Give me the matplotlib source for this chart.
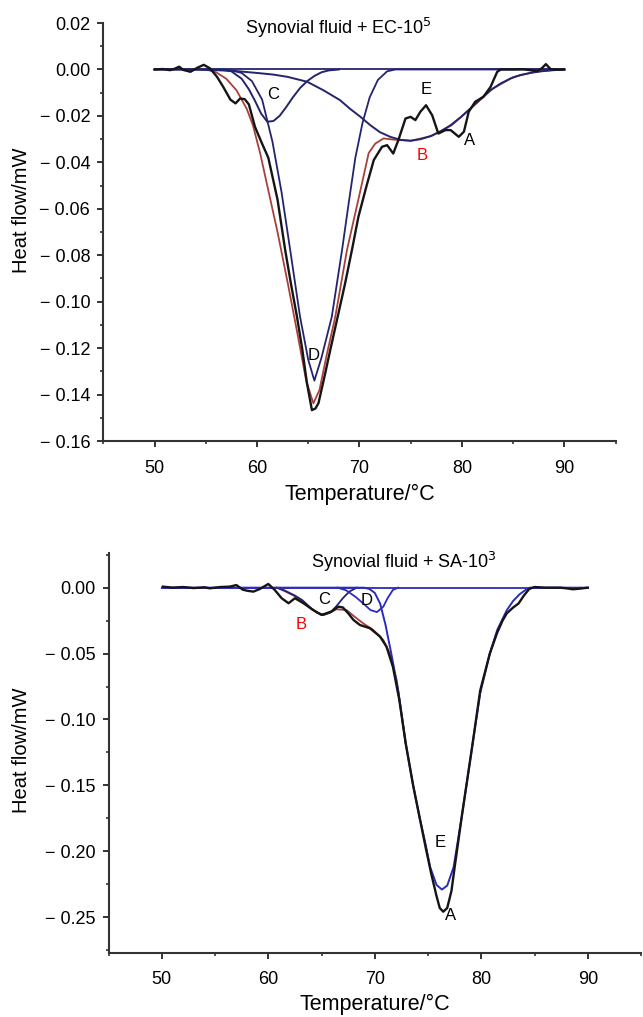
import matplotlib
matplotlib.use("Agg")
import matplotlib.pyplot as plt
from matplotlib.ticker import MultipleLocator, FuncFormatter

plt.rcParams['font.family'] = ['Liberation Sans', 'DejaVu Sans']

# ---------------- Top panel: Synovial fluid + EC-10^5 ----------------
top_exp_T = [50.0, 50.8, 51.5, 52.0, 52.4, 52.8, 53.5, 54.2, 54.8, 55.4, 56.1, 56.7, 57.4, 57.9,
             58.35, 58.8, 59.2, 59.8, 60.4, 61.1, 62.0, 62.75, 63.3, 63.9, 64.4, 64.87, 65.36,
             65.7, 66.0, 66.6, 67.15, 67.9, 68.6, 69.3, 69.9, 70.7, 71.4, 72.2, 72.7, 73.3, 73.8,
             74.5, 75.0, 75.46, 75.95, 76.5, 77.1, 77.7, 78.4, 78.9, 79.7, 80.2, 80.67, 81.3,
             82.1, 82.8, 83.45, 83.8, 85.0, 86.0, 87.35, 87.8, 88.2, 88.65, 89.3, 90.0]
top_exp = [0.0000, 0.0002, -0.0003, 0.0004, 0.0012, -0.0002, -0.0010, 0.0008, 0.0020, 0.0005,
           -0.0032, -0.0075, -0.0130, -0.0146, -0.0125, -0.0128, -0.0150, -0.0247, -0.0310,
           -0.0380, -0.0560, -0.0778, -0.0920, -0.1065, -0.1200, -0.1350, -0.1467, -0.1460,
           -0.1437, -0.1320, -0.1208, -0.1060, -0.0921, -0.0770, -0.0634, -0.0500, -0.0390,
           -0.0333, -0.0326, -0.0362, -0.0304, -0.0211, -0.0204, -0.0218, -0.0182, -0.0154,
           -0.0197, -0.0276, -0.0261, -0.0261, -0.0290, -0.0268, -0.0182, -0.0139, -0.0118,
           -0.0075, -0.0010, 0.0000, 0.0000, 0.0001, -0.0007, 0.0005, 0.0023, 0.0002, -0.0001,
           0.0000]

top_B_T = [55.0, 56.0, 57.0, 58.0, 59.0, 59.6, 60.3, 61.0, 62.0, 63.0, 64.0, 64.8, 65.5, 66.1,
           66.8, 67.64, 68.78, 70.25, 70.9, 71.55, 72.36, 73.3, 75.0, 77.0, 79.0, 81.0, 83.0,
           85.0, 87.0, 89.0, 90.0]
top_B = [0.0, -0.0012, -0.0040, -0.0090, -0.0170, -0.0240, -0.0360, -0.0500, -0.0700, -0.0920,
         -0.1150, -0.1340, -0.1438, -0.1380, -0.1230, -0.1065, -0.0778, -0.0490, -0.0360,
         -0.0319, -0.0297, -0.0302, -0.0307, -0.0287, -0.0240, -0.0163, -0.0083, -0.0033,
         -0.0011, -0.0002, 0.0]

top_D_T = [50.0, 56.5, 57.5, 58.5, 59.5, 60.5, 61.5, 62.4, 63.24, 64.2, 65.0, 65.6, 66.3, 67.3,
           68.3, 69.0, 69.6, 70.3, 71.0, 71.8, 72.7, 73.5, 90.0]
top_D = [0.0, 0.0, -0.0004, -0.0015, -0.0050, -0.0130, -0.0310, -0.0530, -0.0778, -0.1065,
         -0.1250, -0.1340, -0.1240, -0.1065, -0.0778, -0.0560, -0.0380, -0.0230, -0.0120,
         -0.0045, -0.0008, 0.0, 0.0]

top_C_T = [56.5, 57.5, 58.5, 59.2, 59.8, 60.4, 61.0, 61.6, 62.2, 62.8, 63.5, 64.2, 64.9, 65.6,
           66.3, 67.0, 68.0]
top_C = [0.0, -0.0008, -0.0040, -0.0085, -0.0135, -0.0190, -0.0225, -0.0222, -0.0200, -0.0165,
         -0.0120, -0.0080, -0.0050, -0.0028, -0.0012, -0.0004, 0.0]

top_A_T = [50.0, 54.0, 56.0, 58.0, 60.0, 61.6, 63.0, 64.9, 66.5, 68.1, 69.1, 70.1, 71.06, 72.0,
           73.0, 74.0, 75.0, 76.0, 76.95, 78.0, 78.9, 79.9, 80.85, 81.8, 82.8, 83.8, 84.75,
           85.7, 86.7, 87.7, 88.65, 90.0]
top_A = [0.0, -0.0001, -0.0003, -0.0007, -0.0015, -0.0022, -0.0032, -0.0053, -0.0090, -0.0132,
         -0.0170, -0.0204, -0.0240, -0.0270, -0.0290, -0.0303, -0.0307, -0.0300, -0.0287,
         -0.0265, -0.0240, -0.0205, -0.0167, -0.0127, -0.0089, -0.0060, -0.0039, -0.0024,
         -0.0015, -0.0008, -0.0004, 0.0]

top_labels = ["C", "D", "E", "A", "B"]
top_label_T = [61.6, 65.5, 76.5, 80.7, 76.1]
top_label_v = [-0.0106, -0.1230, -0.0085, -0.0307, -0.0370]
top_label_c = ["black", "black", "black", "black", "red"]
top_title = "Synovial fluid + EC-10$^{5}$"

# ---------------- Bottom panel: Synovial fluid + SA-10^3 ----------------
bot_exp_T = [50.1, 51.0, 52.0, 53.0, 54.0, 54.5, 55.5, 56.4, 57.0, 57.6, 58.0, 58.6, 59.2, 60.0,
             60.6, 61.25, 61.9, 62.5, 63.3, 64.2, 65.0, 65.95, 66.57, 67.0, 67.5, 68.0, 68.6,
             69.55, 70.5, 71.1, 71.7, 72.3, 72.9, 73.6, 74.2, 74.8, 75.3, 75.8, 76.1, 76.43,
             76.8, 77.2, 77.5, 78.16, 79.1, 79.9, 80.8, 81.5, 82.0, 82.4, 83.0, 83.5, 84.0,
             84.5, 85.0, 86.0, 87.4, 88.0, 88.6, 89.2, 90.0]
bot_exp = [0.0008, 0.0000, 0.0005, -0.0003, 0.0003, -0.0005, 0.0005, 0.0008, 0.0020, -0.0015,
           -0.0023, -0.0030, -0.0010, 0.0028, -0.0017, -0.0080, -0.0118, -0.0080, -0.0118,
           -0.0169, -0.0207, -0.0180, -0.0144, -0.0150, -0.0194, -0.0245, -0.0283, -0.0308,
           -0.0372, -0.0448, -0.0600, -0.0850, -0.1180, -0.1500, -0.1740, -0.1980, -0.2170,
           -0.2340, -0.2430, -0.2458, -0.2430, -0.2300, -0.2120, -0.1740, -0.1230, -0.0780,
           -0.0500, -0.0340, -0.0250, -0.0194, -0.0150, -0.0120, -0.0060, -0.0010, 0.0005,
           0.0000, 0.0000, -0.0005, -0.0012, -0.0008, 0.0000]

bot_E_T = [50.0, 69.0, 69.5, 70.0, 70.5, 71.0, 71.5, 72.2, 72.9, 73.6, 74.2, 74.8, 75.2, 75.8,
           76.3, 76.8, 77.4, 78.16, 79.1, 79.9, 80.8, 81.5, 82.4, 83.0, 83.6, 84.2, 84.6, 90.0]
bot_E = [0.0, 0.0, -0.0010, -0.0040, -0.0120, -0.0280, -0.0480, -0.0780, -0.1180, -0.1500,
         -0.1740, -0.1960, -0.2120, -0.2255, -0.2290, -0.2260, -0.2120, -0.1740, -0.1230,
         -0.0800, -0.0500, -0.0320, -0.0170, -0.0100, -0.0050, -0.0015, 0.0, 0.0]

bot_C_T = [60.8, 61.5, 62.5, 63.2, 64.0, 64.6, 65.2, 65.8, 66.4, 67.0, 67.6, 68.3]
bot_C = [0.0, -0.0020, -0.0060, -0.0095, -0.0155, -0.0190, -0.0207, -0.0190, -0.0140, -0.0080,
         -0.0030, 0.0]

bot_D_T = [66.5, 67.3, 68.2, 68.9, 69.6, 70.2, 70.8, 71.2, 71.7, 72.2]
bot_D = [0.0, -0.0020, -0.0070, -0.0119, -0.0170, -0.0185, -0.0144, -0.0080, -0.0017, 0.0]

bot_B_T = [60.8, 61.5, 62.5, 63.2, 64.0, 64.6, 65.2, 65.8, 66.4, 67.35, 68.1, 68.9, 69.85, 70.8,
           71.4, 72.05, 72.9]
bot_B = [0.0, -0.0025, -0.0065, -0.0100, -0.0158, -0.0192, -0.0205, -0.0188, -0.0164, -0.0170,
         -0.0220, -0.0270, -0.0320, -0.0397, -0.0498, -0.0700, -0.1180]

bot_labels = ["C", "D", "B", "E", "A"]
bot_label_T = [65.2, 69.2, 63.1, 76.1, 77.1]
bot_label_v = [-0.0090, -0.0098, -0.0283, -0.1935, -0.2490]
bot_label_c = ["black", "black", "red", "black", "black"]
bot_title = "Synovial fluid + SA-10$^{3}$"

x_major = [50, 60, 70, 80, 90]

# ---------------- Drawing ----------------
W, H = 643, 1017
fig = plt.figure(figsize=(W / 100, H / 100), dpi=100)

ax1 = fig.add_axes([103.4 / W, 1 - 441 / H, (615.5 - 103.4) / W, (441 - 22.8) / H])
ax2 = fig.add_axes([108.6 / W, 1 - 952.7 / H, (641 - 108.6) / W, (952.7 - 553) / H])

BLACK = '#151515'
NAVY = '#24246e'
BLUE = '#2b2bc0'
RED = '#a8403a'


def yfmt(v, pos):
    if abs(v) < 1e-9:
        return "0.00"
    if v < 0:
        return "\u2212 " + f"{-v:.2f}"
    return f"{v:.2f}"


def style(ax, ylim, ymaj, ymin, title, title_xy, ylab_xy):
    ax.set_xlim(45, 95)
    ax.set_ylim(*ylim)
    for s in ['top', 'right']:
        ax.spines[s].set_visible(False)
    for s in ['left', 'bottom']:
        ax.spines[s].set_linewidth(1.5)
        ax.spines[s].set_color('#333333')
    ax.set_xticks(x_major)
    ax.xaxis.set_minor_locator(MultipleLocator(5))
    ax.yaxis.set_major_locator(MultipleLocator(ymaj))
    ax.yaxis.set_minor_locator(MultipleLocator(ymin))
    ax.yaxis.set_major_formatter(FuncFormatter(yfmt))
    ax.tick_params(which='major', direction='out', length=4.5, width=1.4, color='#333333',
                   labelsize=13, pad=5)
    ax.tick_params(which='minor', direction='out', length=2.5, width=1.2, color='#333333')
    ax.tick_params(axis='x', which='major', pad=9)
    ax.set_xlabel("Temperature/\u00b0C", fontsize=15.5)
    ax.set_ylabel("Heat flow/mW", fontsize=14.5)
    ax.xaxis.set_label_coords(0.5, -0.103)
    ax.yaxis.set_label_coords(ylab_xy[0], ylab_xy[1])
    ax.text(title_xy[0], title_xy[1], title, fontsize=13, ha='center', va='center')


# top
ax1.plot([50, 90], [0, 0], color=NAVY, lw=1.3, zorder=2)
ax1.plot(top_B_T, top_B, color=RED, lw=1.3, zorder=2)
ax1.plot(top_A_T, top_A, color=NAVY, lw=1.4, zorder=3)
ax1.plot(top_C_T, top_C, color=NAVY, lw=1.4, zorder=3)
ax1.plot(top_D_T, top_D, color=NAVY, lw=1.3, zorder=3)
ax1.plot(top_exp_T, top_exp, color=BLACK, lw=1.7, zorder=4)
for t, x, y, c in zip(top_labels, top_label_T, top_label_v, top_label_c):
    ax1.text(x, y, t, fontsize=12, ha='center', va='center', color=c, zorder=6)
style(ax1, (-0.16, 0.0201), 0.02, 0.01, top_title, (67.9, 0.0178), (-0.141, 0.552))

# bottom
ax2.plot([50, 90], [0, 0], color=BLUE, lw=1.3, zorder=2)
ax2.plot(bot_B_T, bot_B, color=RED, lw=1.3, zorder=2)
ax2.plot(bot_C_T, bot_C, color=NAVY, lw=1.3, zorder=3)
ax2.plot(bot_D_T, bot_D, color=BLUE, lw=1.3, zorder=3)
ax2.plot(bot_E_T, bot_E, color=BLUE, lw=1.4, zorder=3)
ax2.plot(bot_exp_T, bot_exp, color=BLACK, lw=1.7, zorder=4)
for t, x, y, c in zip(bot_labels, bot_label_T, bot_label_v, bot_label_c):
    ax2.text(x, y, t, fontsize=12, ha='center', va='center', color=c, zorder=6)
style(ax2, (-0.2769, 0.0263), 0.05, 0.025, bot_title, (72.7, 0.0197), (-0.146, 0.507))

fig.savefig("out.png", dpi=100)
